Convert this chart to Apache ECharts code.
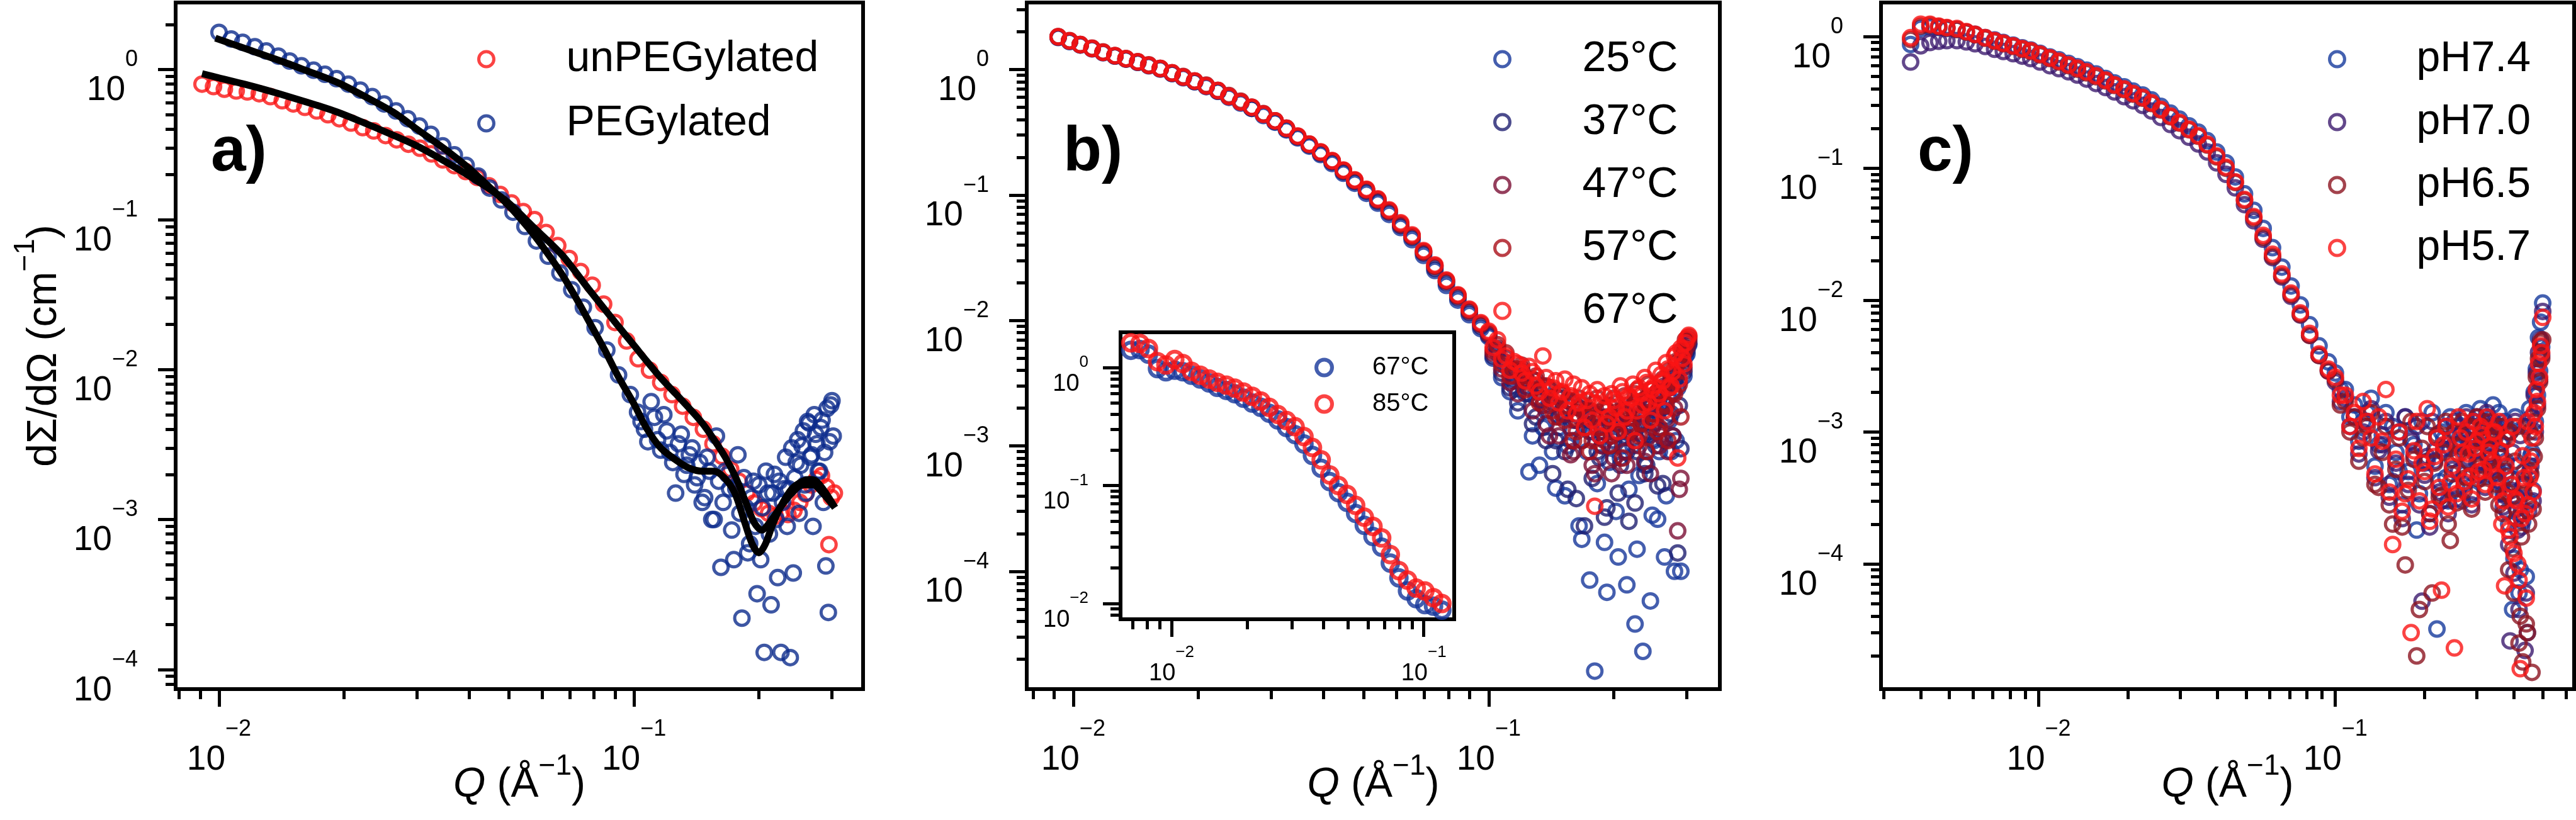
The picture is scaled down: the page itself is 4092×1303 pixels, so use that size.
<!DOCTYPE html>
<html><head><meta charset="utf-8">
<script src="https://cdn.jsdelivr.net/npm/echarts@6/dist/echarts.min.js"></script>
<style>html,body{margin:0;padding:0;background:#fff}#c{width:4092px;height:1303px}</style>
</head><body><div id="c"></div>
<script>
// ---------------- DATA ----------------
// Panel a
const qA_un = [0.0091,0.0097,0.0103,0.0110,0.0117,0.0125,0.0133,0.0142,0.0151,0.0161,0.0172,0.0183,0.0195,0.0208,0.0222,0.0236,0.0252,0.0268,0.0286,0.0305,0.0325,0.0346,0.0369,0.0393,0.0419,0.0447,0.0476,0.0507,0.0541,0.0576,0.0614,0.0655,0.0698,0.0744,0.0793,0.0845,0.0900,0.0960,0.1023,0.1090,0.1160,0.1235,0.1310,0.1390,0.1470,0.1550,0.1630,0.1710,0.1790,0.1870,0.1950,0.2030,0.2110,0.2190,0.2270,0.2350,0.2430,0.2510,0.2590,0.2670,0.2750,0.2830,0.2910,0.2950,0.2990,0.3040];
const iA_un = [0.80,0.77,0.74,0.72,0.71,0.69,0.66,0.62,0.59,0.56,0.53,0.50,0.47,0.44,0.41,0.39,0.363,0.34,0.318,0.299,0.274,0.25,0.229,0.209,0.191,0.168,0.147,0.129,0.113,0.100,0.082,0.067,0.055,0.045,0.0365,0.0273,0.0206,0.0155,0.0118,0.0099,0.0082,0.0068,0.0057,0.0048,0.0040,0.0032,0.00264,0.00216,0.0018,0.0015,0.00129,0.00118,0.00110,0.00105,0.00112,0.00108,0.00115,0.00130,0.00148,0.00170,0.00185,0.00196,0.00165,0.00068,0.00140,0.00150];
const qA_peg = [0.0100,0.0107,0.0114,0.0122,0.0130,0.0139,0.0148,0.0158,0.0169,0.0180,0.0192,0.0205,0.0219,0.0234,0.0250,0.0267,0.0285,0.0304,0.0324,0.0346,0.0369,0.0394,0.0421,0.0449,0.0479,0.0511,0.0546,0.0582,0.0621,0.0663,0.0708,0.0755,0.0806,0.0860,0.0918,0.0980,
  0.102,0.106,0.110,0.114,0.118,0.122,0.126,0.130,0.134,0.138,0.142,0.146,0.150,0.154,0.158,0.162,0.166,0.170,0.174,0.178,0.182,0.186,0.190,0.194,0.198,0.202,0.206,0.210,0.214,0.218,0.222,0.226,0.230,0.234,0.238,0.242,0.246,0.250,0.254,0.258,0.262,0.266,0.270,0.274,0.278,0.282,0.286,0.290,0.294,0.298,0.302];
const iA_peg = [1.77,1.60,1.52,1.42,1.33,1.23,1.14,1.06,0.99,0.93,0.87,0.80,0.73,0.66,0.59,0.53,0.47,0.42,0.37,0.31,0.27,0.23,0.195,0.162,0.135,0.112,0.090,0.072,0.057,0.044,0.034,0.026,0.019,0.0135,0.0092,0.0068,
  0.0052,0.0040,0.0061,0.0034,0.0050,0.0028,0.0015,0.0037,0.0023,0.0030,0.0019,0.0013,0.0026,0.0010,0.0036,0.00048,0.0021,0.0016,0.00054,0.0027,0.00022,0.0012,0.00069,0.0018,0.00032,0.00054,0.00013,0.0015,0.00027,0.0020,0.00041,0.00013,0.0016,0.0009,0.00012,0.00044,0.0024,0.0011,0.0031,0.0017,0.0045,0.0026,0.0009,0.0037,0.0021,0.0041,0.0013,0.00049,0.00024,0.0058,0.0036];
const qA_peg2 = [0.104,0.108,0.112,0.116,0.120,0.124,0.128,0.132,0.136,0.140,0.144,0.148,0.152,0.156,0.160,0.164,0.168,0.172,0.176,0.180,0.184,0.188,0.192,0.196,0.200,0.204,0.208,0.212,0.216,0.220,0.224,0.228,0.232,0.236,0.240,0.244,0.248,0.252,0.256,0.260,0.264,0.268,0.272,0.276,0.280,0.284,0.288,0.292,0.296,0.300];
const iA_peg2 = [0.0045,0.0033,0.0048,0.0029,0.0039,0.0024,0.0032,0.0020,0.0027,0.0017,0.0024,0.0014,0.0021,0.0010,0.0018,0.0013,0.0020,0.00085,0.0016,0.0011,0.0019,0.00060,0.0014,0.0009,0.0017,0.0012,0.0021,0.0008,0.0015,0.0010,0.0018,0.0013,0.0026,0.0016,0.0030,0.0019,0.0034,0.0023,0.0039,0.0015,0.0044,0.0027,0.0050,0.0032,0.0021,0.0046,0.0028,0.0055,0.0033,0.0062];
const qA_fitUn = [0.0091,0.0100,0.0115,0.0130,0.0150,0.0175,0.0193,0.0220,0.0260,0.0300,0.0359,0.0420,0.0492,0.0570,0.0671,0.0780,0.0916,0.1000,0.1070,0.1160,0.1260,0.1360,0.1460,0.1560,0.1660,0.1760,0.1860,0.1950,0.2030,0.2120,0.2250,0.2400,0.2550,0.2700,0.2850,0.3050];
const iA_fitUn = [0.94,0.88,0.80,0.73,0.65,0.57,0.52,0.45,0.37,0.31,0.235,0.18,0.133,0.090,0.058,0.034,0.0195,0.0145,0.0115,0.0088,0.0069,0.0055,0.0044,0.0034,0.0026,0.0019,0.0013,0.00095,0.00085,0.00095,0.0012,0.0015,0.0017,0.0017,0.0015,0.0012];
const qA_fitPeg = [0.0098,0.0110,0.0125,0.0141,0.0160,0.0193,0.0225,0.0263,0.0300,0.0359,0.0400,0.0448,0.0500,0.0556,0.0610,0.0671,0.0730,0.0786,0.0850,0.0916,0.1000,0.1070,0.1160,0.1260,0.1360,0.1460,0.1560,0.1650,0.1750,0.1850,0.1930,0.2000,0.2070,0.2150,0.2250,0.2400,0.2550,0.2650,0.2750,0.2900,0.3050];
const iA_fitPeg = [1.62,1.45,1.28,1.14,1.00,0.82,0.66,0.52,0.40,0.28,0.22,0.165,0.123,0.088,0.063,0.043,0.029,0.020,0.0135,0.0090,0.0059,0.0041,0.0030,0.0025,0.0022,0.0021,0.0021,0.0019,0.0015,0.00095,0.00068,0.00060,0.00068,0.00090,0.0012,0.0016,0.0018,0.00185,0.0018,0.0015,0.0012];

// Panel b
const qB = [0.0092,0.0098,0.0104,0.0111,0.0118,0.0126,0.0134,0.0143,0.0152,0.0162,0.0173,0.0184,0.0196,0.0209,0.0223,0.0237,0.0253,0.0269,0.0287,0.0306,0.0326,0.0347,0.0370,0.0394,0.0420,0.0447,0.0476,0.0508,0.0541,0.0576,0.0614,0.0654,0.0697,0.0742,0.0791,0.0843,0.0898,0.0957,
  0.100,0.105,0.110,0.115,0.120,0.125,0.130,0.135,0.140,0.145,0.150,0.155,0.160,0.165,0.170,0.175,0.180,0.185,0.190,0.195,0.200,0.205,0.210,0.215,0.220,0.225,0.230,0.235,0.240,0.245,0.250,0.255,0.260,0.265,0.270,0.275,0.280,0.285,0.290,0.295,0.300,0.303];
const qB2 = [0.1025,0.1075,0.1125,0.1175,0.1225,0.1275,0.1325,0.1375,0.1425,0.1475,0.1525,0.1575,0.1625,0.1675,0.1725,0.1775,0.1825,0.1875,0.1925,0.1975,0.2025,0.2075,0.2125,0.2175,0.2225,0.2275,0.2325,0.2375,0.2425,0.2475,0.2525,0.2575,0.2625,0.2675,0.2725,0.2775,0.2825,0.2875,0.2925,0.2975];
const iB_25 = [1.80,1.67,1.57,1.46,1.36,1.28,1.21,1.14,1.07,1.01,0.93,0.86,0.80,0.73,0.67,0.60,0.54,0.49,0.43,0.38,0.33,0.285,0.245,0.21,0.178,0.149,0.124,0.103,0.086,0.070,0.055,0.044,0.033,0.025,0.019,0.0145,0.0111,0.0086,
  0.0074,0.0055,0.0043,0.0030,0.0036,0.00062,0.0024,0.0014,0.0028,0.00046,0.0019,0.0010,0.0022,0.00023,0.0015,0.000085,0.000016,0.0012,0.00017,0.00074,0.0016,0.00013,0.0010,0.000078,0.0013,0.000038,0.00058,0.000023,0.0017,0.000058,0.0011,0.00026,0.0020,0.00013,0.0024,0.0009,0.00010,0.0029,0.000100,0.0036,0.0054,0.0064];
const iB_25b = [0.0050,0.0035,0.0027,0.0019,0.0026,0.0012,0.00070,0.0019,0.0009,0.0014,0.00040,0.0011,0.0016,0.00018,0.0009,0.0013,0.00050,0.0010,0.000068,0.0012,0.00030,0.0008,0.0013,0.00045,0.0010,0.00015,0.0015,0.0007,0.0012,0.00028,0.0019,0.0009,0.0023,0.00040,0.0016,0.0027,0.0011,0.0033,0.0042,0.0052];
const iB_37 = [1.81,1.68,1.57,1.47,1.37,1.28,1.21,1.14,1.08,1.01,0.93,0.87,0.80,0.74,0.67,0.61,0.55,0.49,0.44,0.385,0.335,0.29,0.25,0.215,0.183,0.153,0.128,0.107,0.089,0.073,0.057,0.046,0.0345,0.026,0.020,0.0152,0.0116,0.0090,
  0.0076,0.0058,0.0046,0.0033,0.0039,0.0026,0.0017,0.0030,0.0021,0.0011,0.0024,0.00045,0.0016,0.0020,0.00023,0.0013,0.0018,0.0008,0.00027,0.0015,0.0011,0.00042,0.0017,0.0009,0.0014,0.00035,0.0019,0.0012,0.0007,0.0022,0.0015,0.00048,0.0026,0.0011,0.0029,0.0018,0.0033,0.00014,0.00095,0.0039,0.0058,0.0066];
const iB_37b = [0.0052,0.0038,0.0029,0.0022,0.0030,0.0015,0.0023,0.0011,0.00060,0.0017,0.0009,0.0014,0.00038,0.0011,0.0016,0.00055,0.0009,0.0013,0.00032,0.0010,0.0015,0.00070,0.0012,0.00025,0.0014,0.0009,0.0018,0.00060,0.0013,0.0021,0.0010,0.0024,0.00050,0.0017,0.0029,0.0012,0.0035,0.0021,0.0044,0.0057];
const iB_47 = [1.82,1.69,1.58,1.47,1.37,1.29,1.22,1.15,1.08,1.02,0.94,0.87,0.81,0.74,0.68,0.61,0.55,0.50,0.44,0.39,0.34,0.292,0.252,0.218,0.186,0.156,0.130,0.109,0.091,0.074,0.058,0.047,0.035,0.027,0.0205,0.0156,0.0119,0.0093,
  0.0078,0.0060,0.0050,0.0036,0.0041,0.0029,0.0033,0.0021,0.0012,0.0025,0.0018,0.0023,0.0009,0.0020,0.0014,0.0019,0.0006,0.0017,0.0011,0.0021,0.0008,0.0015,0.0019,0.0007,0.0013,0.0022,0.0010,0.0018,0.0024,0.0006,0.0016,0.0027,0.0012,0.0030,0.0009,0.0035,0.0020,0.00021,0.00055,0.0042,0.0062,0.0070];
const iB_47b = [0.0055,0.0041,0.0032,0.0026,0.0035,0.0019,0.0027,0.0015,0.0022,0.0012,0.0018,0.00085,0.0016,0.0011,0.0019,0.00070,0.0014,0.0010,0.0017,0.00060,0.0013,0.0018,0.0009,0.0015,0.0021,0.0011,0.0017,0.00075,0.0020,0.0014,0.0024,0.0010,0.0027,0.0016,0.0031,0.0012,0.0038,0.00045,0.0048,0.0060];
const iB_57 = [1.83,1.70,1.58,1.48,1.38,1.29,1.22,1.15,1.09,1.02,0.94,0.88,0.81,0.75,0.68,0.62,0.56,0.50,0.445,0.39,0.34,0.294,0.254,0.22,0.187,0.157,0.131,0.110,0.092,0.075,0.059,0.047,0.0355,0.0272,0.0207,0.0158,0.0121,0.0094,
  0.0080,0.0064,0.0055,0.0040,0.0044,0.0032,0.0036,0.0024,0.0029,0.0017,0.0026,0.0021,0.0011,0.0024,0.0018,0.0009,0.0022,0.0015,0.0020,0.0010,0.0024,0.0016,0.0008,0.0021,0.0014,0.0026,0.0012,0.0023,0.0009,0.0028,0.0018,0.0013,0.0032,0.0022,0.0011,0.0038,0.0026,0.0046,0.0017,0.0055,0.0068,0.0074];
const iB_57b = [0.0058,0.0045,0.0036,0.0041,0.0028,0.0034,0.0022,0.0030,0.0019,0.0026,0.0016,0.0023,0.0013,0.0021,0.0017,0.0011,0.0024,0.0014,0.0019,0.0012,0.0022,0.0016,0.0025,0.0013,0.0020,0.0028,0.0015,0.0022,0.0031,0.0018,0.0026,0.0014,0.0034,0.0021,0.0040,0.0027,0.0047,0.0031,0.0058,0.0070];
const iB_67 = [1.82,1.69,1.58,1.47,1.37,1.29,1.22,1.15,1.08,1.02,0.94,0.87,0.81,0.74,0.68,0.61,0.55,0.50,0.44,0.39,0.34,0.295,0.254,0.22,0.188,0.158,0.132,0.111,0.093,0.076,0.060,0.048,0.036,0.0277,0.021,0.016,0.0123,0.0096,
  0.0082,0.0070,0.0052,0.0047,0.0038,0.0043,0.0030,0.0052,0.0024,0.0033,0.0027,0.0019,0.0031,0.0022,0.0014,0.0026,0.00033,0.0012,0.0025,0.0017,0.0023,0.0013,0.0027,0.0019,0.0024,0.0011,0.0029,0.0021,0.0032,0.0016,0.0030,0.0024,0.0037,0.0019,0.0041,0.0030,0.0052,0.00080,0.0060,0.0045,0.0072,0.0076];
const iB_67b = [0.0061,0.0049,0.0040,0.0045,0.0033,0.0039,0.0027,0.0035,0.0029,0.0022,0.0034,0.0025,0.0018,0.0029,0.0023,0.0016,0.0028,0.0021,0.0015,0.0026,0.0020,0.0030,0.0017,0.0025,0.0031,0.0019,0.0026,0.0035,0.0022,0.0028,0.0040,0.0026,0.0033,0.0046,0.0029,0.0039,0.0055,0.0034,0.0050,0.0066];

// Inset of panel b
const qIn = [0.0069,0.0075,0.0081,0.0088,0.0095,0.0103,0.0111,0.0120,0.0130,0.0141,0.0152,0.0165,0.0178,0.0193,0.0209,0.0226,0.0244,0.0264,0.0286,0.0309,0.0335,0.0362,0.0392,0.0424,0.0459,0.0497,0.0537,0.0581,0.0629,0.0681,0.0737,0.0797,0.0862,0.0933,0.1010,0.1093,0.1180];
const iIn_67 = [1.40,1.42,1.30,0.98,0.92,0.95,0.92,0.86,0.80,0.74,0.68,0.64,0.60,0.55,0.50,0.46,0.41,0.36,0.31,0.27,0.225,0.18,0.14,0.108,0.087,0.072,0.058,0.046,0.037,0.030,0.022,0.0165,0.0128,0.0110,0.0098,0.0095,0.0088];
const iIn_85 = [1.62,1.60,1.45,1.12,1.05,1.17,1.08,0.93,0.86,0.80,0.75,0.71,0.67,0.62,0.57,0.52,0.46,0.40,0.355,0.315,0.26,0.21,0.165,0.123,0.10,0.084,0.068,0.054,0.045,0.036,0.026,0.019,0.0158,0.0135,0.0128,0.0112,0.0100];

// Panel c
const qC = [0.0037,0.0040,0.0043,0.0046,0.0049,0.0053,0.0057,0.0061,0.0066,0.0071,0.0076,0.0082,0.0088,0.0094,0.0101,0.0109,0.0117,0.0126,0.0135,0.0145,0.0156,0.0168,0.0180,0.0194,0.0208,0.0224,0.0240,0.0258,0.0278,0.0298,0.0321,0.0345,0.0370,0.0398,0.0428,0.0460,0.0494,0.0531,0.0571,0.0614,0.0660,0.0709,0.0762,0.0819,0.0881,0.0947,
  0.100,0.108,0.116,0.124,0.132,0.140,0.148,0.156,0.164,0.172,0.180,0.188,0.196,0.204,0.212,0.220,0.228,0.236,0.244,0.252,0.260,0.268,0.276,0.284,0.292,0.300,0.308,0.316,0.324,0.332,0.340,0.348,0.356,0.364,0.372,0.380,0.388,0.396,0.404,0.412,0.420,0.428,0.436,0.444,0.452,0.460,0.468,0.476,0.484,0.492,0.500];
const qC2 = [0.104,0.112,0.120,0.128,0.136,0.144,0.152,0.160,0.168,0.176,0.184,0.192,0.200,0.208,0.216,0.224,0.232,0.240,0.248,0.256,0.264,0.272,0.280,0.288,0.296,0.304,0.312,0.320,0.328,0.336,0.344,0.352,0.360,0.368,0.376,0.384,0.392,0.400,0.408,0.416,0.424,0.432,0.440,0.448,0.456,0.464,0.472,0.480,0.488,0.496];
const iC_74 = [0.87,1.15,1.18,1.17,1.15,1.13,1.08,1.04,0.98,0.94,0.90,0.86,0.82,0.79,0.745,0.70,0.665,0.625,0.59,0.555,0.52,0.48,0.445,0.415,0.385,0.36,0.33,0.295,0.262,0.236,0.21,0.188,0.162,0.133,0.110,0.086,0.064,0.048,0.035,0.025,0.0178,0.0128,0.0092,0.0065,0.0045,0.0034,
  0.0028,0.0021,0.0016,0.0012,0.0018,0.0008,0.0014,0.0011,0.00050,0.0013,0.0009,0.00018,0.0012,0.00060,0.0014,0.000032,0.0010,0.00045,0.0013,0.00080,0.0011,0.00030,0.0014,0.00095,0.0012,0.00058,0.0015,0.0010,0.0013,0.00070,0.0016,0.0011,0.0014,0.00040,0.0012,0.00025,0.0010,0.000045,0.0013,0.00055,0.00009,0.00021,0.0011,0.000030,0.0015,0.00070,0.0020,0.0030,0.0052,0.0068,0.0095];
const iC_74b = [0.0021,0.0013,0.00085,0.0014,0.00055,0.00095,0.00040,0.00070,0.00028,0.00050,0.00080,0.00034,0.00058,0.00024,0.00072,0.00042,0.00088,0.00030,0.00062,0.00038,0.00096,0.00048,0.00076,0.00034,0.00086,0.00056,0.0011,0.00046,0.00080,0.00064,0.0011,0.00052,0.00082,0.00034,0.00060,0.00020,0.00044,0.00011,0.00032,0.000060,0.00024,0.00050,0.000080,0.00030,0.00066,0.00036,0.0012,0.0019,0.0029,0.0044];
const iC_70 = [0.64,0.85,0.90,0.92,0.93,0.93,0.91,0.88,0.84,0.80,0.77,0.74,0.71,0.68,0.64,0.60,0.57,0.54,0.51,0.475,0.44,0.41,0.38,0.35,0.325,0.30,0.272,0.243,0.215,0.193,0.172,0.153,0.133,0.110,0.090,0.071,0.053,0.040,0.029,0.021,0.0150,0.0107,0.0077,0.0054,0.0038,0.0029,
  0.0024,0.0018,0.0013,0.0010,0.0015,0.00072,0.0012,0.00042,0.0010,0.0013,0.00085,0.0011,0.000052,0.00065,0.0012,0.00090,0.00030,0.0011,0.00075,0.0012,0.00050,0.0010,0.0013,0.00085,0.0011,0.0013,0.00060,0.0012,0.0014,0.00092,0.0012,0.00048,0.0011,0.00082,0.00033,0.0010,0.000026,0.00070,0.0012,0.00018,0.00094,0.00038,0.000022,0.0011,0.00050,0.0013,0.0019,0.0028,0.0040,0.0050,0.0082];
const iC_70b = [0.0017,0.0011,0.00068,0.0012,0.00045,0.00080,0.00032,0.00058,0.00022,0.00040,0.00066,0.00028,0.00047,0.00019,0.00060,0.00035,0.00074,0.00024,0.00052,0.00031,0.00082,0.00040,0.00064,0.00028,0.00072,0.00047,0.00090,0.00038,0.00066,0.00054,0.00094,0.00043,0.00068,0.00027,0.00050,0.00014,0.00036,0.000085,0.00026,0.000045,0.00019,0.00040,0.000060,0.00025,0.00055,0.00030,0.0010,0.0016,0.0025,0.0038];
const iC_65 = [0.95,1.20,1.22,1.19,1.16,1.13,1.08,1.03,0.97,0.92,0.88,0.84,0.80,0.77,0.725,0.68,0.64,0.60,0.565,0.53,0.495,0.46,0.425,0.395,0.365,0.34,0.31,0.277,0.246,0.22,0.196,0.175,0.15,0.122,0.100,0.078,0.057,0.042,0.030,0.0215,0.0153,0.0110,0.0078,0.0054,0.0038,0.0029,
  0.0025,0.0017,0.0013,0.00090,0.0014,0.00038,0.0011,0.00020,0.0009,0.000098,0.0012,0.000020,0.00075,0.0011,0.000060,0.00095,0.00033,0.0012,0.00015,0.0010,0.00068,0.0012,0.00045,0.0011,0.00080,0.0013,0.00050,0.0011,0.00092,0.0012,0.00060,0.0010,0.00028,0.0011,0.00090,0.00035,0.0010,0.00013,0.00060,0.0011,0.000040,0.000018,0.00042,0.000030,0.0010,0.000015,0.00065,0.0026,0.0036,0.0048,0.0050];
const iC_65b = [0.0016,0.0010,0.00060,0.0011,0.00040,0.00070,0.00028,0.00052,0.00019,0.00036,0.00062,0.000045,0.00042,0.00024,0.00058,0.00032,0.00070,0.00020,0.00048,0.00029,0.00078,0.00036,0.00060,0.00026,0.00068,0.00044,0.00085,0.00035,0.00062,0.00050,0.00088,0.00040,0.00064,0.00024,0.00046,0.000090,0.00032,0.000060,0.00022,0.000025,0.00016,0.00034,0.000035,0.00020,0.00048,0.00026,0.00090,0.0015,0.0024,0.0036];
const iC_57 = [0.98,1.24,1.24,1.20,1.17,1.15,1.09,1.04,0.98,0.93,0.89,0.85,0.81,0.78,0.735,0.69,0.65,0.61,0.575,0.54,0.505,0.467,0.43,0.40,0.37,0.345,0.314,0.28,0.249,0.223,0.198,0.177,0.152,0.124,0.102,0.079,0.058,0.043,0.031,0.0223,0.0158,0.0113,0.0080,0.0056,0.0039,0.0030,
  0.0026,0.0019,0.0014,0.0017,0.0009,0.0013,0.0021,0.00014,0.0010,0.00034,0.000030,0.0012,0.00058,0.0015,0.00026,0.0009,0.000063,0.0011,0.00041,0.000023,0.0013,0.00070,0.0010,0.00046,0.0012,0.00085,0.0011,0.00052,0.0013,0.00078,0.0010,0.00036,0.0012,0.00020,0.000068,0.00088,0.00016,0.0011,0.00031,0.00010,0.000016,0.00066,0.00024,0.0012,0.00045,0.00090,0.0014,0.0021,0.0033,0.0045,0.0074];
const iC_57b = [0.0019,0.0011,0.00075,0.0012,0.00048,0.00085,0.00035,0.00062,0.00025,0.00044,0.00072,0.00030,0.00050,0.00021,0.00065,0.00038,0.00080,0.00027,0.00055,0.00034,0.00090,0.00042,0.00068,0.00031,0.00075,0.00050,0.00095,0.00040,0.00070,0.00058,0.00100,0.00045,0.00072,0.00030,0.00055,0.00018,0.00040,0.00012,0.00030,0.000075,0.00022,0.00045,0.000055,0.00028,0.00060,0.00035,0.0011,0.0017,0.0026,0.0040];

// Axis ranges and tick values
const xRangeA = [0.00786, 0.3565], yRangeA = [7.4e-5, 2.80];
const xRangeB = [0.00773, 0.360],  yRangeB = [1.15e-5, 3.42];
const xRangeC = [0.00294, 0.638],  yRangeC = [1.12e-5, 1.81];
const xRangeIn = [0.00628, 0.132], yRangeIn = [0.00736, 1.99];
const xMajor = [0.01, 0.1];
const yMajor = [1e-4, 1e-3, 1e-2, 1e-1, 1];
const yMajorIn = [1e-2, 1e-1, 1];

// ---------------- CHART ----------------
const FONT = "'Liberation Sans', Arial, Helvetica, sans-serif";
const K = '#000';
const COL = {
  red: '#fa1414', blueA: '#0c2c8c',
  b25: '#15369a', b37: '#1f1f70', b47: '#7a0f34', b57: '#aa0f19', b67: '#fa1414',
  c74: '#15399c', c70: '#3c1a6e', c65: '#8c1420', c57: '#fa1414'
};
function minorTicks(lo, hi) {
  const out = [];
  for (let n = -6; n <= 1; n++) for (let k = 2; k <= 9; k++) {
    const v = k * Math.pow(10, n);
    if (v >= lo && v <= hi) out.push(Math.log10(v));
  }
  return out;
}
const fmt = v => { const n = Math.round(v); return '{b|10}{e|' + (n < 0 ? '\u2212' + (-n) : n) + '}'; };
const tickRich = {
  b: {fontSize: 55, lineHeight: 94, verticalAlign: 'bottom', fontFamily: FONT, color: K},
  e: {fontSize: 36, lineHeight: 36, verticalAlign: 'top', fontFamily: FONT, color: K}
};
const insetRich = {
  b: {fontSize: 38, lineHeight: 66, verticalAlign: 'bottom', fontFamily: FONT, color: K},
  e: {fontSize: 26, lineHeight: 26, verticalAlign: 'top', fontFamily: FONT, color: K}
};
const titleRich = {
  n: {fontSize: 66, lineHeight: 86, verticalAlign: 'bottom', fontFamily: FONT, color: K},
  q: {fontSize: 66, lineHeight: 86, verticalAlign: 'bottom', fontStyle: 'italic', fontFamily: FONT, color: K},
  s: {fontSize: 46, lineHeight: 46, verticalAlign: 'top', fontFamily: FONT, color: K}
};
const grids = [], xAxes = [], yAxes = [];
function addPanel(g, xr, yr, yMaj, st) {
  const gi = grids.length;
  grids.push(Object.assign({show: true, borderColor: K, borderWidth: 6, backgroundColor: st.bg || 'transparent',
    containLabel: false, outerBoundsMode: 'none'}, g));
  const lx = [Math.log10(xr[0]), Math.log10(xr[1])], ly = [Math.log10(yr[0]), Math.log10(yr[1])];
  const xMajL = xMajor.map(v => Math.round(Math.log10(v))), yMajL = yMaj.map(v => Math.round(Math.log10(v)));
  const tl = {color: K, width: 5};
  const xi = xAxes.length, yi = yAxes.length;
  xAxes.push({type: 'log', logBase: 10, gridIndex: gi, min: xr[0], max: xr[1], show: false});
  xAxes.push({type: 'value', gridIndex: gi, position: 'bottom', min: lx[0], max: lx[1],
    axisLine: {show: false, onZero: false}, splitLine: {show: false},
    axisTick: {show: true, inside: false, customValues: xMajL, length: st.major, lineStyle: tl},
    axisLabel: {show: true, customValues: xMajL, formatter: fmt, rich: st.rich, margin: st.xm, color: K},
    name: st.xName || '', nameLocation: 'middle', nameGap: 100, nameMoveOverlap: false,
    nameTextStyle: {rich: titleRich, fontFamily: FONT, color: K}});
  xAxes.push({type: 'value', gridIndex: gi, position: 'bottom', min: lx[0], max: lx[1],
    axisLine: {show: false, onZero: false}, splitLine: {show: false},
    axisTick: {show: true, inside: false, customValues: minorTicks(xr[0], xr[1]), length: st.minor, lineStyle: tl},
    axisLabel: {show: false}});
  yAxes.push({type: 'log', logBase: 10, gridIndex: gi, min: yr[0], max: yr[1], show: false});
  yAxes.push({type: 'value', gridIndex: gi, position: 'left', min: ly[0], max: ly[1],
    axisLine: {show: false, onZero: false}, splitLine: {show: false},
    axisTick: {show: true, inside: false, customValues: yMajL, length: st.major, lineStyle: tl},
    axisLabel: {show: true, customValues: yMajL, formatter: fmt, rich: st.rich, margin: st.ym, padding: st.ypad, color: K},
    name: st.yName || '', nameLocation: 'middle', nameGap: 175, nameRotate: 90, nameMoveOverlap: false,
    nameTextStyle: {rich: titleRich, fontFamily: FONT, color: K}});
  yAxes.push({type: 'value', gridIndex: gi, position: 'left', min: ly[0], max: ly[1],
    axisLine: {show: false, onZero: false}, splitLine: {show: false},
    axisTick: {show: true, inside: false, customValues: minorTicks(yr[0], yr[1]), length: st.minor, lineStyle: tl},
    axisLabel: {show: false}});
  return {x: xi, y: yi};
}
const xTitle = '{q|Q}{n| (\u00C5}{s|\u22121}{n|)}';
const yTitle = '{n|d\u03A3/d\u03A9 (cm}{s|\u22121}{n|)}';
const mainSt = {major: 28, minor: 16, rich: tickRich, xm: 46, ym: 60, ypad: [28, 0, 0, 0], xName: xTitle};
const pA = addPanel({left: 279, top: 4, width: 1092, height: 1091}, xRangeA, yRangeA, yMajor, Object.assign({}, mainSt, {yName: yTitle}));
const pB = addPanel({left: 1631, top: 4, width: 1101, height: 1091}, xRangeB, yRangeB, yMajor, mainSt);
const pC = addPanel({left: 2988, top: 4, width: 1101, height: 1091}, xRangeC, yRangeC, yMajor, mainSt);
const pI = addPanel({left: 1780, top: 528, width: 530, height: 456}, xRangeIn, yRangeIn, yMajorIn,
  {major: 28, minor: 16, rich: insetRich, xm: 40, ym: 51, ypad: [24, 0, 0, 0], bg: '#fff'});

const zip = (q, v) => q.map((x, i) => [x, v[i]]).filter(p => p[1] != null);
function sc(name, p, pts, color, size, bw) {
  return {type: 'scatter', name, xAxisIndex: p.x, yAxisIndex: p.y, data: pts,
    symbol: 'circle', symbolSize: size || 23, silent: true, z: 2,
    itemStyle: {color: 'rgba(0,0,0,0)', borderColor: color, borderWidth: bw || 5},
    emphasis: {disabled: true}};
}
function fit(p, q, v) {
  return {type: 'line', xAxisIndex: p.x, yAxisIndex: p.y, data: zip(q, v), symbol: 'none', showSymbol: false,
    smooth: 0.3, silent: true, z: 4, lineStyle: {color: K, width: 11}};
}
const series = [
  sc('unPEGylated', pA, zip(qA_un, iA_un), COL.red),
  sc('PEGylated', pA, zip(qA_peg, iA_peg).concat(zip(qA_peg2, iA_peg2)), COL.blueA),
  fit(pA, qA_fitUn, iA_fitUn),
  fit(pA, qA_fitPeg, iA_fitPeg),
  sc('25°C', pB, zip(qB, iB_25).concat(zip(qB2, iB_25b)), COL.b25),
  sc('37°C', pB, zip(qB, iB_37).concat(zip(qB2, iB_37b)), COL.b37),
  sc('47°C', pB, zip(qB, iB_47).concat(zip(qB2, iB_47b)), COL.b47),
  sc('57°C', pB, zip(qB, iB_57).concat(zip(qB2, iB_57b)), COL.b57),
  sc('67°C', pB, zip(qB, iB_67).concat(zip(qB2, iB_67b)), COL.b67),
  sc('67°C ', pI, zip(qIn, iIn_67), COL.b25, 25, 6),
  sc('85°C', pI, zip(qIn, iIn_85), COL.b67, 25, 6),
  sc('pH7.4', pC, zip(qC, iC_74).concat(zip(qC2, iC_74b)), COL.c74),
  sc('pH7.0', pC, zip(qC, iC_70).concat(zip(qC2, iC_70b)), COL.c70),
  sc('pH6.5', pC, zip(qC, iC_65).concat(zip(qC2, iC_65b)), COL.c65),
  sc('pH5.7', pC, zip(qC, iC_57).concat(zip(qC2, iC_57b)), COL.c57)
];
function leg(names, left, top, gap, fs, pad, size, bw) {
  return {data: names, orient: 'vertical', left, top, itemGap: gap, itemWidth: size, itemHeight: size,
    padding: 0, selectedMode: false, itemStyle: {borderWidth: bw},
    textStyle: {fontSize: fs, lineHeight: fs + 4, fontFamily: FONT, color: K, padding: [0, 0, 0, pad]}};
}
const option = {
  animation: false,
  backgroundColor: '#fff',
  grid: grids, xAxis: xAxes, yAxis: yAxes, series,
  legend: [
    leg(['unPEGylated', 'PEGylated'], 758, 58, 30, 68, 110, 24, 5),
    leg(['25°C', '37°C', '47°C', '57°C', '67°C'], 2372, 58, 28, 68, 110, 24, 5),
    leg(['pH7.4', 'pH7.0', 'pH6.5', 'pH5.7'], 3698, 58, 28, 68, 109, 24, 5),
    leg(['67°C ', '85°C'], 2088, 562, 14, 40, 59, 25, 6)
  ],
  graphic: [
    {type: 'text', left: 335, top: 193, style: {text: 'a)', font: "bold 100px " + FONT, fill: K}},
    {type: 'text', left: 1689, top: 193, style: {text: 'b)', font: "bold 100px " + FONT, fill: K}},
    {type: 'text', left: 3046, top: 193, style: {text: 'c)', font: "bold 100px " + FONT, fill: K}}
  ]
};
const chart = echarts.init(document.getElementById('c'), null, {renderer: 'canvas', width: 4092, height: 1303});
chart.setOption(option);
</script></body></html>
